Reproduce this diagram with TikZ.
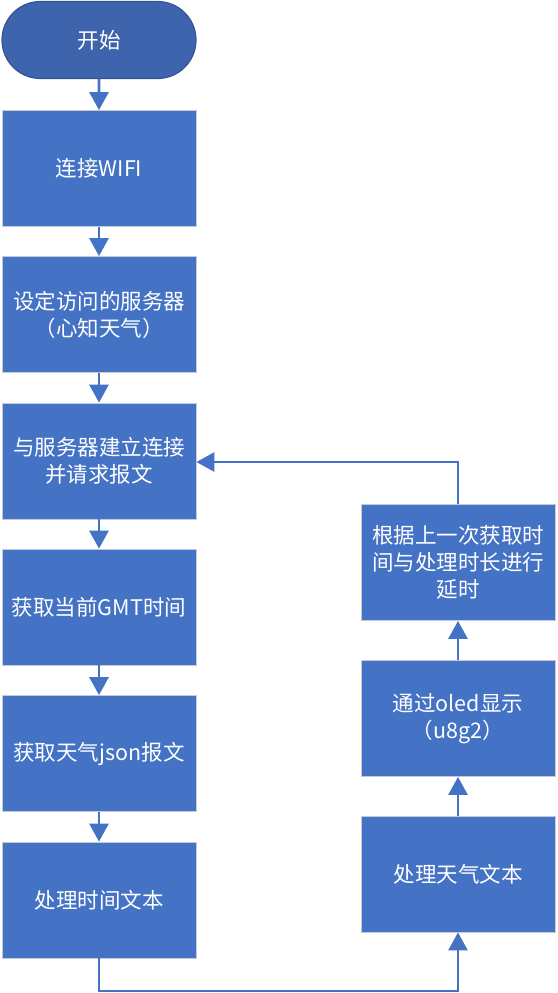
\documentclass[tikz,border=0pt]{standalone}
\usepackage{fontspec}
\setmainfont{Noto Sans CJK SC}
\usetikzlibrary{arrows.meta,shapes.misc,positioning}
\definecolor{boxblue}{HTML}{4472C4}
\definecolor{termblue}{HTML}{3F64AE}
\definecolor{termedge}{HTML}{2F5597}
\definecolor{boxedge}{HTML}{C5CBD6}
\tikzset{
  x=1pt,y=-1pt,
  stepbox/.style={rectangle,fill=boxblue,draw=boxedge,line width=0.8pt,
    minimum width=194pt,minimum height=116pt,inner sep=0pt,
    text=white,align=center,font=\fontsize{21.5}{27}\selectfont},
  termbox/.style={rounded rectangle,fill=termblue,draw=termedge,line width=1.2pt,
    minimum width=194pt,minimum height=77pt,inner sep=0pt,
    text=white,align=center,font=\fontsize{21.5}{27}\selectfont},
  flow/.style={draw=boxblue,line width=2.8pt,-{Triangle[length=18pt,width=19pt]}},
}
\begin{document}
\begin{tikzpicture}
\useasboundingbox (0,0) rectangle (557,993);
\node[termbox] (start) at (99,40) {开始};
\node[stepbox] (wifi) at (99,168.5) {连接WIFI};
\node[stepbox] (srv) at (99,314.5) {设定访问的服务器\\（心知天气）};
\node[stepbox] (conn) at (99,461) {与服务器建立连接\\并请求报文};
\node[stepbox] (gmt) at (99,607) {获取当前GMT时间};
\node[stepbox] (json) at (99,753.5) {获取天气json报文};
\node[stepbox] (ptime) at (99,900) {处理时间文本};
\node[stepbox] (pweather) at (458,874) {处理天气文本};
\node[stepbox] (oled) at (458,718.5) {通过oled显示\\（u8g2）};
\node[stepbox] (delay) at (458,562.5) {根据上一次获取时\\间与处理时长进行\\延时};
\coordinate (b1) at (99,991);
\coordinate (b2) at (458,991);
\coordinate (t1) at (458,462);
\draw[flow] (start) -- (wifi);
\draw[flow] (wifi) -- (srv);
\draw[flow] (srv) -- (conn);
\draw[flow] (conn) -- (gmt);
\draw[flow] (gmt) -- (json);
\draw[flow] (json) -- (ptime);
\draw[flow] (ptime.south) -- (b1) -- (b2) -- (pweather.south);
\draw[flow] (pweather) -- (oled);
\draw[flow] (oled) -- (delay);
\draw[flow] (delay.north) -- (t1) -- (conn.east |- t1);
\end{tikzpicture}
\end{document}
